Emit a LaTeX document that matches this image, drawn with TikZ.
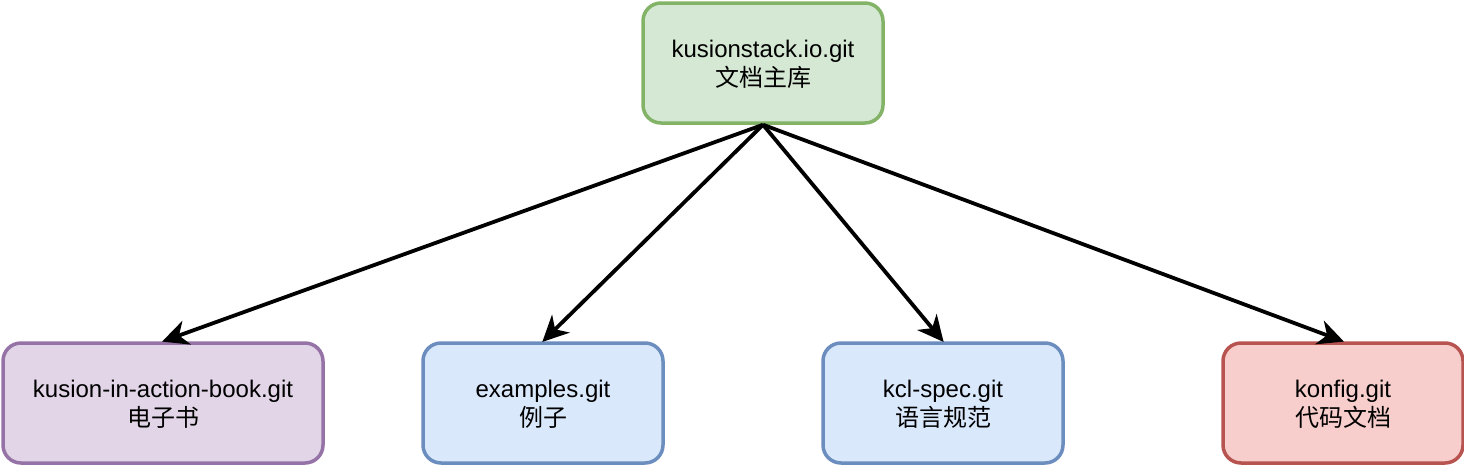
\documentclass[tikz,border=0pt]{standalone}
\usepackage{fontspec}
\setmainfont{Liberation Sans}
\newfontfamily\cjk{Noto Sans CJK SC}
\usetikzlibrary{arrows.meta}
\definecolor{gfill}{HTML}{D5E8D4}\definecolor{gline}{HTML}{82B366}
\definecolor{pfill}{HTML}{E1D5E7}\definecolor{pline}{HTML}{9673A6}
\definecolor{bfill}{HTML}{DAE8FC}\definecolor{bline}{HTML}{6C8EBF}
\definecolor{rfill}{HTML}{F8CECC}\definecolor{rline}{HTML}{B85450}
\tikzset{
  repo/.style={rounded corners=18pt, line width=3.5pt, minimum width=240pt, minimum height=120pt,
    inner sep=0pt, align=center, font=\fontsize{24}{28.8}\selectfont, text depth=0pt},
  link/.style={line width=3.8pt, -{Stealth[length=26pt,width=25pt,inset=8pt]}, shorten >=-1pt},
}
\begin{document}
\begin{tikzpicture}[x=1pt,y=-1pt]
\useasboundingbox (0,0) rectangle (1464,464);
\node[repo, draw=gline, fill=gfill] (main) at (763,63) {kusionstack.io.git\\{\cjk 文档主库}};
\node[repo, draw=pline, fill=pfill, minimum width=320pt] (book) at (163,403) {kusion-in-action-book.git\\{\cjk 电子书}};
\node[repo, draw=bline, fill=bfill] (ex) at (543,403) {examples.git\\{\cjk 例子}};
\node[repo, draw=bline, fill=bfill] (spec) at (943,403) {kcl-spec.git\\{\cjk 语言规范}};
\node[repo, draw=rline, fill=rfill] (konfig) at (1343,403) {konfig.git\\{\cjk 代码文档}};
\draw[link] (main.south) -- (book.north);
\draw[link] (main.south) -- (ex.north);
\draw[link] (main.south) -- (spec.north);
\draw[link] (main.south) -- (konfig.north);
\end{tikzpicture}
\end{document}
